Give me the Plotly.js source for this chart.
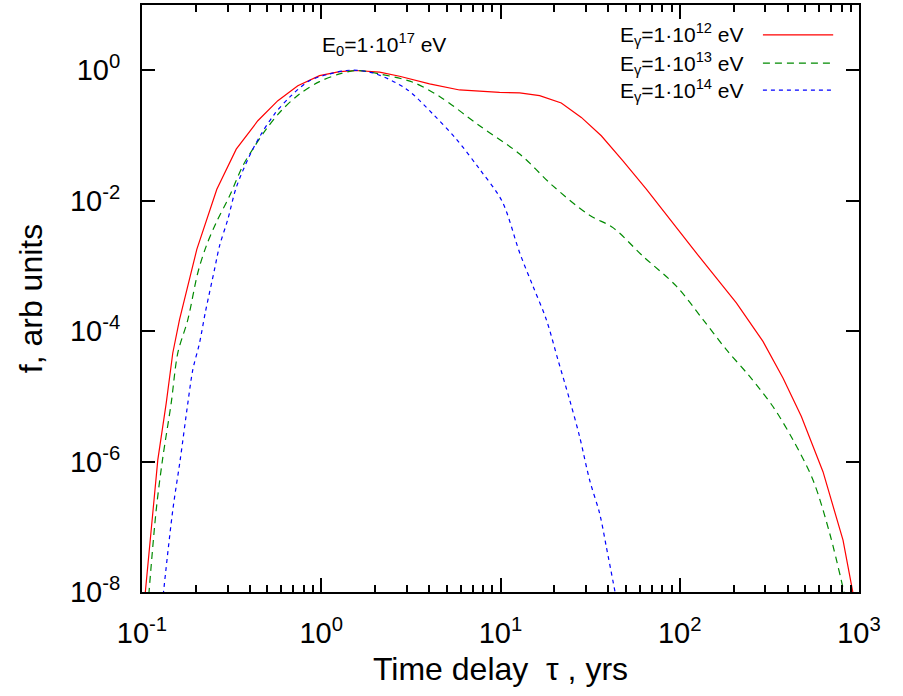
<!DOCTYPE html>
<html>
<head>
<meta charset="utf-8">
<script src="https://cdn.plot.ly/plotly-3.0.1.min.js"></script>
<style>html,body{margin:0;padding:0;background:#fff;}#chart{width:903px;height:696px;}</style>
</head>
<body>
<div id="chart"></div>
<script>
// E_gamma = 1e12 eV (red, solid)
const redX = [0.104, 0.1149, 0.1225, 0.1365, 0.1485, 0.1619, 0.2022, 0.2615, 0.3355, 0.4428, 0.5727, 0.740, 0.978, 1.265, 1.568, 2.115, 2.735, 4.02, 5.91, 9.89, 12.79, 16.53, 21.83, 28.24, 36.5, 48.2, 65.1, 129.8, 206.9, 291.2, 376.6, 477, 629.7, 814.4, 930];
const redY = [9e-9, 1.8e-7, 1.06e-6, 7.88e-6, 4.62e-5, 1.5e-4, 1.79e-3, 0.01497, 0.0617, 0.168, 0.341, 0.580, 0.826, 0.952, 0.99, 0.932, 0.809, 0.616, 0.498, 0.459, 0.448, 0.407, 0.314, 0.189, 0.0988, 0.0408, 0.0150, 1.334e-3, 2.71e-4, 6.97e-5, 1.91e-5, 4.90e-6, 7.0e-7, 6.23e-8, 9e-9];
// E_gamma = 1e13 eV (green, dashed)
const greenX = [0.1091, 0.120, 0.1301, 0.1455, 0.1584, 0.1802, 0.2048, 0.2282, 0.2595, 0.3078, 0.365, 0.415, 0.4933, 0.598, 0.7566, 0.978, 1.265, 1.568, 2.115, 3.245, 4.573, 7.645, 12.79, 19.61, 31.4, 42.4, 62.3, 95.7, 134.8, 182, 245.5, 331, 428.3, 553.8, 686.5, 832];
const greenY = [9e-9, 1.8e-7, 1.06e-6, 7.88e-6, 4.62e-5, 1.5e-4, 7.85e-4, 2.01e-3, 4.61e-3, 0.0118, 0.0341, 0.0617, 0.1252, 0.2393, 0.432, 0.668, 0.877, 0.99, 0.877, 0.654, 0.3957, 0.1407, 0.0520, 0.01683, 5.96e-3, 3.86e-3, 1.41e-3, 4.89e-4, 1.5e-4, 5.2e-5, 2.02e-5, 6.98e-6, 2.15e-6, 5.21e-7, 7.9e-8, 9e-9];
// E_gamma = 1e14 eV (blue, short dashes)
const blueX = [0.1313, 0.1485, 0.1633, 0.1802, 0.1921, 0.2094, 0.2253, 0.2538, 0.2706, 0.3012, 0.3355, 0.398, 0.4626, 0.5486, 0.680, 0.860, 1.112, 1.379, 1.636, 2.027, 2.981, 4.196, 5.666, 7.645, 10.2, 12.79, 15.17, 18.02, 20.91, 24.3, 27.63, 31.42, 35.73, 38.94, 43.88];
const blueY = [9e-9, 1.8e-7, 1.06e-6, 7.88e-6, 2.56e-5, 6.59e-5, 1.905e-4, 8.82e-4, 2.01e-3, 5.18e-3, 0.0159, 0.0487, 0.105, 0.2129, 0.407, 0.692, 0.877, 0.99, 0.99, 0.877, 0.516, 0.2129, 0.0879, 0.0304, 0.0098, 1.59e-3, 4.89e-4, 1.5e-4, 3.65e-5, 8.85e-6, 2.41e-6, 5.21e-7, 1.6e-7, 4.92e-8, 9e-9];

const seriesNames = ['E<sub>γ</sub>=1·10<sup>12</sup> eV', 'E<sub>γ</sub>=1·10<sup>13</sup> eV', 'E<sub>γ</sub>=1·10<sup>14</sup> eV'];
const xTickVals = [0.1, 1, 10, 100, 1000];
const xTickText = ['10<sup>-1</sup>', '10<sup>0</sup>', '10<sup>1</sup>', '10<sup>2</sup>', '10<sup>3</sup>'];
const xMinorVals = [0.2,0.3,0.4,0.5,0.6,0.7,0.8,0.9,2,3,4,5,6,7,8,9,20,30,40,50,60,70,80,90,200,300,400,500,600,700,800,900];
const yTickVals = [1e-8, 1e-6, 1e-4, 1e-2, 1];
const yTickText = ['10<sup>-8</sup>', '10<sup>-6</sup>', '10<sup>-4</sup>', '10<sup>-2</sup>', '10<sup>0</sup>'];

const colors = ['#ff0000', '#008a00', '#0000ff'];
const dashes = ['solid', '7px,5px', '4px,4px'];
const shapesLine = ['linear', 'spline', 'spline'];

const traces = [[redX, redY], [greenX, greenY], [blueX, blueY]].map((d, i) => ({
  x: d[0], y: d[1], type: 'scatter', mode: 'lines', name: seriesNames[i],
  line: {color: colors[i], width: 1.2, dash: dashes[i], shape: shapesLine[i], smoothing: 0.9}, showlegend: false
}));

const font = 'Liberation Sans, Arial, sans-serif';
const legY = [0.949, 0.901, 0.855];
const annotations = [{
  xref: 'paper', yref: 'paper', x: 0.338, y: 0.932, xanchor: 'center', yanchor: 'middle',
  text: 'E<sub>0</sub>=1·10<sup>17</sup> eV', showarrow: false, font: {family: font, size: 21, color: '#000'}
}];
const shapes = [];
seriesNames.forEach((n, i) => {
  annotations.push({xref: 'paper', yref: 'paper', x: 0.843, y: legY[i], xanchor: 'right', yanchor: 'middle',
    text: n, showarrow: false, font: {family: font, size: 21, color: '#000'}});
  shapes.push({type: 'line', xref: 'paper', yref: 'paper', x0: 0.866, x1: 0.964, y0: legY[i], y1: legY[i],
    line: {color: colors[i], width: 1.2, dash: dashes[i]}});
});

const layout = {
  width: 903, height: 696,
  margin: {l: 142, r: 44, t: 5, b: 104},
  paper_bgcolor: '#fff', plot_bgcolor: '#fff',
  font: {family: font, size: 30, color: '#000'},
  showlegend: false,
  xaxis: {
    type: 'log', range: [-1, 3], tickmode: 'array', tickvals: xTickVals, ticktext: xTickText,
    ticks: 'inside', ticklen: 14, tickwidth: 2, tickcolor: '#000',
    minor: {tickmode: 'array', tickvals: xMinorVals, ticks: 'inside', ticklen: 7, tickwidth: 2, tickcolor: '#000', showgrid: false},
    showline: true, linewidth: 2, linecolor: '#000', mirror: 'allticks', showgrid: false, zeroline: false,
    ticklabelstandoff: 14,
    tickfont: {family: font, size: 29},
    title: {text: 'Time delay  τ , yrs', font: {family: font, size: 32}, standoff: 10}
  },
  yaxis: {
    type: 'log', range: [-8, 1], tickmode: 'array', tickvals: yTickVals, ticktext: yTickText,
    ticks: 'inside', ticklen: 13, tickwidth: 2, tickcolor: '#000',
    showline: true, linewidth: 2, linecolor: '#000', mirror: 'allticks', showgrid: false, zeroline: false,
    ticklabelstandoff: 14,
    tickfont: {family: font, size: 29},
    title: {text: 'f, arb units', font: {family: font, size: 32}, standoff: 18}
  },
  annotations: annotations,
  shapes: shapes
};

Plotly.newPlot('chart', traces, layout, {displayModeBar: false, staticPlot: true});
</script>
</body>
</html>
